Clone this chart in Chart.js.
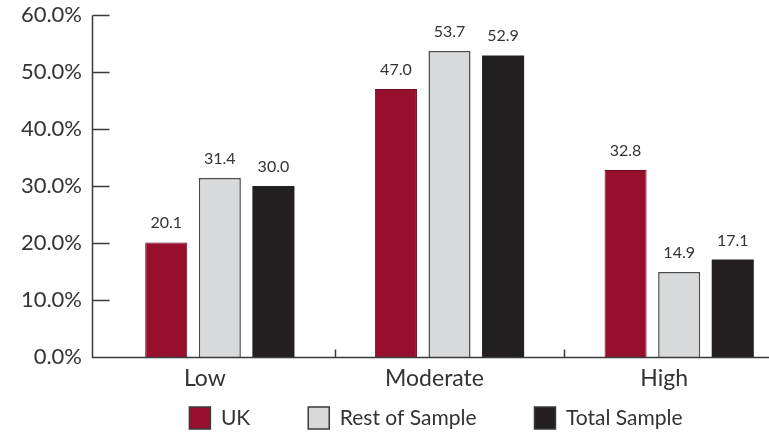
<!DOCTYPE html>
<html>
<head>
<meta charset="utf-8">
<script src="https://cdn.jsdelivr.net/npm/chart.js@4/dist/chart.umd.min.js"></script>
<style>
  html, body { margin: 0; padding: 0; background: #fff; overflow: hidden; }
  #wrap { width: 769px; height: 432px; overflow: hidden; }
</style>
</head>
<body>
<!-- the plot runs a little past the right edge in the original -->
<div id="wrap"><canvas id="myChart" width="794" height="432"></canvas></div>
<script>
// data
var categories = ['Low', 'Moderate', 'High'];
var ukValues = [20.1, 47.0, 32.8];
var restValues = [31.4, 53.7, 14.9];
var totalValues = [30.0, 52.9, 17.1];
var yTicks = [0, 10, 20, 30, 40, 50, 60];

var FONT = 'Lato, "Open Sans", sans-serif';
var AXIS = '#3a3a3a';
var TEXT = '#333';

// value labels above the bars
var valueLabels = {
  id: 'valueLabels',
  afterDatasetsDraw: function (chart) {
    var ctx = chart.ctx;
    ctx.save();
    ctx.font = '16px ' + FONT;
    ctx.fillStyle = TEXT;
    ctx.textAlign = 'center';
    ctx.textBaseline = 'alphabetic';
    chart.data.datasets.forEach(function (ds, i) {
      chart.getDatasetMeta(i).data.forEach(function (bar, j) {
        ctx.fillText(ds.data[j].toFixed(1), bar.x, bar.y - 14);
      });
    });
    ctx.restore();
  }
};

// axis lines sit a little left of the first bars; ticks point inward
var axisLines = {
  id: 'axisLines',
  afterLayout: function (chart) {
    // legend sits under the plot, centred on it, with wide gaps between items
    var lg = chart.legend;
    lg.left = chart.chartArea.left - 27;
    lg.top = chart.chartArea.bottom - 8;
  },
  afterDraw: function (chart) {
    var ctx = chart.ctx;
    var y = chart.scales.y, x = chart.scales.x;
    var ax = Math.round(x.left - 13) + 0.5;
    var bottom = Math.round(y.getPixelForValue(0)) + 0.5;
    ctx.save();
    ctx.strokeStyle = AXIS;
    ctx.lineWidth = 1.5;
    ctx.beginPath();
    ctx.moveTo(ax, Math.round(y.getPixelForValue(60)) + 0.5);
    ctx.lineTo(ax, bottom);
    ctx.lineTo(x.right, bottom);
    yTicks.forEach(function (v) {
      var py = Math.round(y.getPixelForValue(v)) + 0.5;
      ctx.moveTo(ax, py);
      ctx.lineTo(ax + 17, py);
    });
    for (var k = 1; k < categories.length; k++) {
      var px = Math.round((x.getPixelForValue(k - 1) + x.getPixelForValue(k)) / 2) + 0.5;
      ctx.moveTo(px, bottom);
      ctx.lineTo(px, bottom - 8);
    }
    ctx.stroke();
    ctx.restore();
  }
};

var ctx = document.getElementById('myChart').getContext('2d');
var myChart = new Chart(ctx, {
  type: 'bar',
  data: {
    labels: categories,
    datasets: [
      {
        label: 'UK',
        data: ukValues,
        backgroundColor: '#96102e',
        borderColor: '#6e0b22',
        borderWidth: 1
      },
      {
        label: 'Rest of Sample',
        data: restValues,
        backgroundColor: '#d8d9db',
        borderColor: '#4a4a4a',
        borderWidth: 1.5
      },
      {
        label: 'Total Sample',
        data: totalValues,
        backgroundColor: '#231f20',
        borderColor: '#231f20',
        borderWidth: 0
      }
    ]
  },
  options: {
    responsive: false,
    animation: false,
    categoryPercentage: 0.7,
    barPercentage: 0.785,
    layout: { padding: 0 },
    plugins: {
      legend: {
        display: true,
        position: 'bottom',
        maxHeight: 39,
        labels: {
          font: { family: FONT, size: 21 },
          color: TEXT,
          boxWidth: 21,
          boxHeight: 22,
          padding: 58,
          generateLabels: function (chart) {
            return chart.data.datasets.map(function (ds, i) {
              return {
                text: ds.label,
                fillStyle: ds.backgroundColor,
                strokeStyle: '#3a3a3a',
                lineWidth: 1.5,
                datasetIndex: i,
                fontColor: TEXT
              };
            });
          }
        }
      },
      tooltip: { enabled: false }
    },
    scales: {
      x: {
        grid: { display: false, drawTicks: false },
        border: { display: false },
        afterFit: function (scale) { scale.height = 36; },
        ticks: {
          font: { family: FONT, size: 23 },
          color: TEXT,
          padding: 8,
          labelOffset: -15
        }
      },
      y: {
        min: 0,
        max: 60,
        afterBuildTicks: function (scale) {
          scale.ticks = yTicks.map(function (v) { return { value: v }; });
        },
        afterFit: function (scale) {
          scale.width = 105;
          scale.paddingTop = 15;
          scale.paddingBottom = 13;
        },
        grid: { display: false, drawTicks: false },
        border: { display: false },
        ticks: {
          font: { family: FONT, size: 22 },
          color: TEXT,
          padding: 23,
          callback: function (v) { return v.toFixed(1) + '%'; }
        }
      }
    }
  },
  plugins: [valueLabels, axisLines]
});
</script>
</body>
</html>
